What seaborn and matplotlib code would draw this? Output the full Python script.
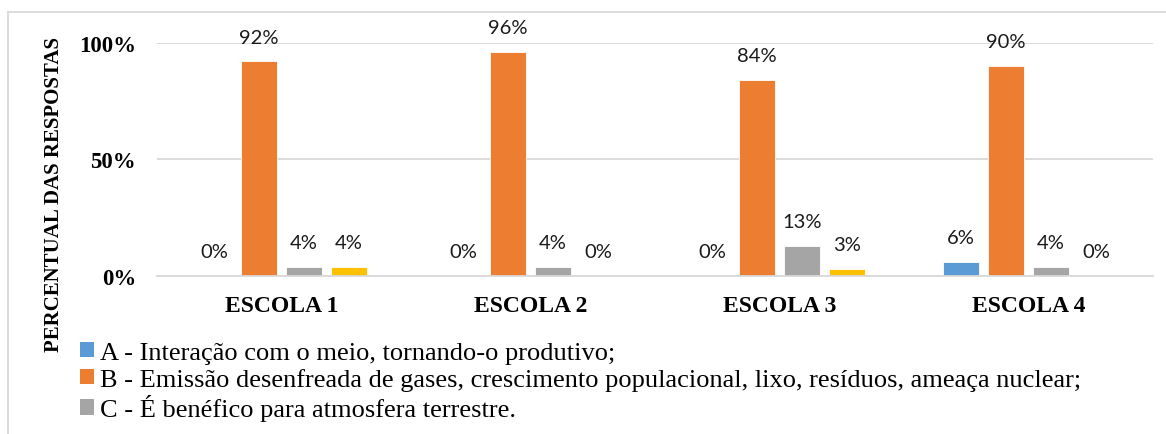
import matplotlib
matplotlib.use("Agg")
import matplotlib.pyplot as plt
from matplotlib.lines import Line2D
from matplotlib.patches import Patch
import seaborn as sns
import pandas as pd

# Dados: percentual das respostas por escola
escolas = ["ESCOLA 1", "ESCOLA 2", "ESCOLA 3", "ESCOLA 4"]
respostas = ["A", "B", "C", "D"]
legenda = [
    "A - Interação com o meio, tornando-o produtivo;",
    "B - Emissão desenfreada de gases, crescimento populacional, lixo, resíduos, ameaça nuclear;",
    "C - É benéfico para atmosfera terrestre.",
]
resp_a = [0, 0, 0, 6]
resp_b = [92, 96, 84, 90]
resp_c = [4, 4, 13, 4]
resp_d = [4, 0, 3, 0]
ticks_y = [0, 50, 100]
cores = ["#5B9BD5", "#ED7D31", "#A5A5A5", "#FFC000"]

valores = [resp_a, resp_b, resp_c, resp_d]
df = pd.DataFrame({
    "escola": escolas * len(respostas),
    "resposta": [r for r in respostas for _ in escolas],
    "valor": resp_a + resp_b + resp_c + resp_d,
})

sns.set_theme(style="white")
plt.rcParams["font.family"] = "serif"
plt.rcParams["font.serif"] = ["Liberation Serif", "DejaVu Serif"]
plt.rcParams["text.color"] = "black"
plt.rcParams["xtick.color"] = "black"
plt.rcParams["ytick.color"] = "black"

SERIF = "Liberation Serif"

W, H = 1166, 435
fig = plt.figure(figsize=(W / 100, H / 100), dpi=100)
ax = fig.add_axes([157 / W, 1 - 277 / H, (1153 - 157) / W, (277 - 43.5) / H])

sns.barplot(data=df, x="escola", y="valor", hue="resposta", palette=cores,
            width=0.723, gap=0.22, saturation=1, legend=False, ax=ax,
            edgecolor="white", linewidth=0.6)

# Rótulos de dados acima de cada barra
for cont, serie in zip(ax.containers, valores):
    for barra, v in zip(cont, serie):
        xc = barra.get_x() + barra.get_width() / 2
        ax.annotate(f"{v}%", (xc, v), xytext=(0, 24), textcoords="offset pixels",
                    ha="center", va="center", fontsize=14.5, family="Lato",
                    color="#1a1a1a")

ax.set_ylim(0, 100)
ax.set_xlim(-0.5, 3.5)
ax.set_yticks(ticks_y)
ax.set_yticklabels([f"{t}%" for t in ticks_y], fontsize=16.5, fontweight="bold",
                   family=SERIF)
ax.set_xticks(range(len(escolas)))
ax.set_xticklabels(escolas, fontsize=17, fontweight="bold", family=SERIF)
ax.tick_params(axis="y", length=0, pad=15)
ax.tick_params(axis="x", length=0, pad=14)
ax.set_xlabel("")
ax.set_ylabel("")
ax.yaxis.grid(True, color="#d9d9d9", linewidth=1.3)
ax.set_axisbelow(True)
for s in ["top", "right", "left"]:
    ax.spines[s].set_visible(False)
ax.spines["bottom"].set_color("#d9d9d9")
ax.spines["bottom"].set_linewidth(1.3)

fig.text(54 / W, 1 - 194 / H, "PERCENTUAL DAS RESPOSTAS", rotation=90,
         ha="center", va="center", fontsize=15, fontweight="bold", family=SERIF)

handles = [Patch(facecolor=c, edgecolor="none") for c in cores[:3]]
fig.legend(handles, legenda, loc="upper left",
           bbox_to_anchor=(80 / W, 1 - 343 / H), frameon=False,
           prop={"family": SERIF, "size": 19},
           handlelength=0.53, handleheight=0.5, handletextpad=0.23,
           labelspacing=0.14, borderpad=0, borderaxespad=0)

# Moldura da área do gráfico
fig.add_artist(Line2D([8 / W, 1], [1 - 13 / H, 1 - 13 / H], color="#d9d9d9", linewidth=1.3))
fig.add_artist(Line2D([8 / W, 8 / W], [1 - 13 / H, 0], color="#d9d9d9", linewidth=1.3))

fig.savefig("out.png", dpi=100)
